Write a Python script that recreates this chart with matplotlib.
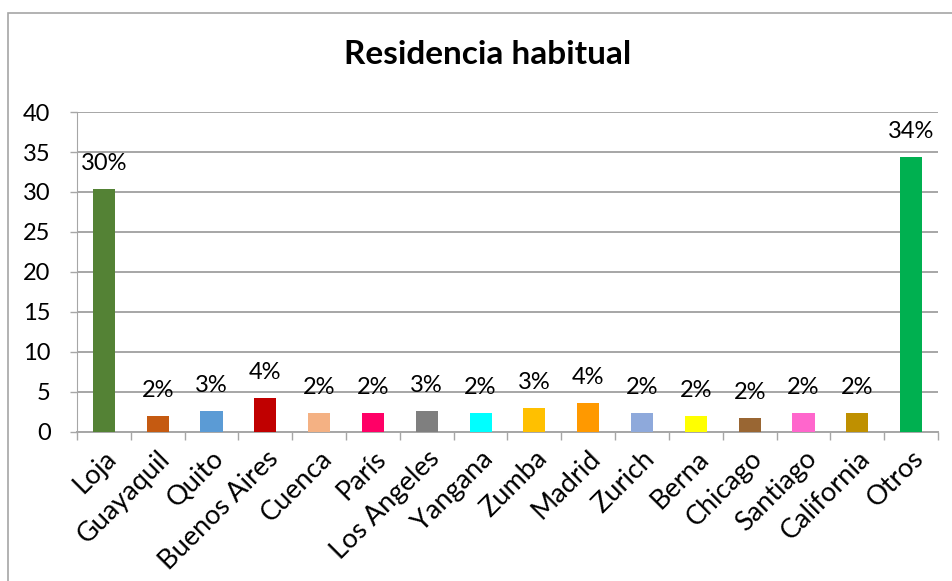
import matplotlib
matplotlib.use("Agg")
import matplotlib.pyplot as plt
from matplotlib.patches import Rectangle

# data
cities = ["Loja", "Guayaquil", "Quito", "Buenos Aires", "Cuenca", "París",
          "Los Angeles", "Yangana", "Zumba", "Madrid", "Zurich", "Berna",
          "Chicago", "Santiago", "California", "Otros"]
values = [30.4, 2.0, 2.6, 4.25, 2.4, 2.4, 2.6, 2.4, 3.0, 3.6, 2.4, 2.0,
          1.75, 2.4, 2.4, 34.4]
labels = ["30%", "2%", "3%", "4%", "2%", "2%", "3%", "2%", "3%", "4%",
          "2%", "2%", "2%", "2%", "2%", "34%"]
colors = ["#548235", "#C55A11", "#5B9BD5", "#C00000", "#F4B183", "#FF0066",
          "#7F7F7F", "#00FFFF", "#FFC000", "#FF9900", "#8EA9DB", "#FFFF00",
          "#996633", "#FF66CC", "#BF9000", "#00B050"]
y_ticks = [0, 5, 10, 15, 20, 25, 30, 35, 40]

plt.rcParams['font.family'] = ['Lato', 'DejaVu Sans']
grid_col = "#A6A6A6"

fig = plt.figure(figsize=(9.53, 5.81), dpi=100)
ax = fig.add_axes([77 / 953, 1 - 432 / 581, (938 - 77) / 953, 320 / 581])

x = range(len(cities))
ax.bar(x, values, width=0.41, color=colors, zorder=3)

for i, (v, lab) in enumerate(zip(values, labels)):
    ax.annotate(lab, (i, v), xytext=(0, 13.5), textcoords="offset points",
                ha="center", va="baseline", fontsize=17, color="black")

ax.set_xlim(-0.5, len(cities) - 0.5)
ax.set_ylim(0, 40)
ax.set_yticks(y_ticks)
ax.set_yticklabels([str(t) for t in y_ticks], fontsize=17)
ax.yaxis.grid(True, color=grid_col, linewidth=1.4, zorder=0)
ax.tick_params(axis="y", length=5, color=grid_col, width=1, pad=14)

ax.set_xticks([i - 0.5 for i in range(len(cities) + 1)], minor=True)
ax.set_xticks(list(x))
ax.set_xticklabels(cities, rotation=45, ha="right", va="top",
                   rotation_mode="anchor", fontsize=19.5)
ax.tick_params(axis="x", which="major", length=0, pad=10)
ax.tick_params(axis="x", which="minor", length=6, color=grid_col, width=1)

for side in ["top", "right"]:
    ax.spines[side].set_visible(False)
ax.spines["left"].set_color(grid_col)
ax.spines["bottom"].set_color(grid_col)
ax.spines["bottom"].set_linewidth(1.4)

fig.text(488 / 953, 1 - 55 / 581, "Residencia habitual", ha="center",
         va="center", fontsize=24, fontweight="bold")

# chart frame
fig.patches.append(Rectangle((8.5 / 953, -0.1), 1.2, 1.1 - 13 / 581,
                             transform=fig.transFigure, fill=False,
                             edgecolor=grid_col, linewidth=1.2))

fig.savefig("out.png", dpi=100)
